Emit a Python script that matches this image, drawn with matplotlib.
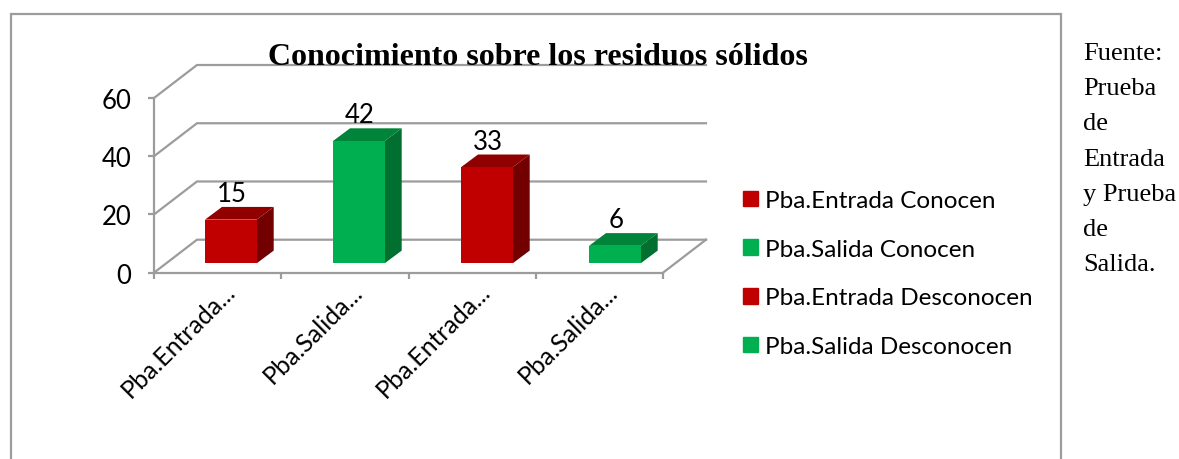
import matplotlib
matplotlib.use("Agg")
import matplotlib.pyplot as plt
from matplotlib.patches import Polygon, Rectangle, Patch

# datos
categorias = ["Pba.Entrada Conocen", "Pba.Salida Conocen", "Pba.Entrada Desconocen", "Pba.Salida Desconocen"]
etiquetas_x = ["Pba.Entrada...", "Pba.Salida...", "Pba.Entrada...", "Pba.Salida..."]
valores = [15, 42, 33, 6]
ticks_y = [0, 20, 40, 60]
titulo = "Conocimiento sobre los residuos sólidos"
fuente = ["Fuente:", "Prueba", "de", "Entrada", "y Prueba", "de", "Salida."]

# colores: frente, tapa, lado
ROJO = ("#C00000", "#900000", "#720000")
VERDE = ("#00B050", "#008439", "#006F30")
colores = [ROJO, VERDE, ROJO, VERDE]
GRIS = "#9C9C9C"

W, H = 1179, 460
plt.rcParams["font.family"] = ["Lato", "DejaVu Sans"]

fig = plt.figure(figsize=(W / 100, H / 100), dpi=100)

# plano frontal del grafico, en pixeles de la imagen
left, right, top, bottom = 154, 663, 99, 273.7
ax = fig.add_axes([left / W, 1 - bottom / H, (right - left) / W, (bottom - top) / H])
ax.set_xlim(0, len(valores))
ax.set_ylim(0, 60)
ax.patch.set_alpha(0)

# profundidad oblicua en unidades de datos
px_x = len(valores) / (right - left)
px_y = 60 / (bottom - top)
DX = 43 * px_x
DY = 33 * px_y

# paredes y rejilla
for t in ticks_y:
    ax.plot([0, DX, len(valores) + DX], [t, t + DY, t + DY], color=GRIS, lw=1.6,
            clip_on=False, zorder=1, solid_joinstyle="miter")
ax.plot([len(valores), len(valores) + DX], [0, DY], color=GRIS, lw=1.6, clip_on=False, zorder=1)

# barras 3D
ANCHO = 51.7 * px_x
PASO = 128 * px_x
BASE_X = 51 * px_x
BASE_Y = 9.4 * px_y
PROF_X = 17 * px_x
PROF_Y = 12.7 * px_y
for i, (v, c) in enumerate(zip(valores, colores)):
    x0 = BASE_X + i * PASO
    x1 = x0 + ANCHO
    y0 = BASE_Y
    y1 = BASE_Y + v
    ax.add_patch(Polygon([(x1, y0), (x1 + PROF_X, y0 + PROF_Y), (x1 + PROF_X, y1 + PROF_Y), (x1, y1)],
                         color=c[2], lw=0, clip_on=False, zorder=3))
    ax.add_patch(Polygon([(x0, y1), (x1, y1), (x1 + PROF_X, y1 + PROF_Y), (x0 + PROF_X, y1 + PROF_Y)],
                         color=c[1], lw=0, clip_on=False, zorder=3))
    ax.add_patch(Rectangle((x0, y0), ANCHO, v, color=c[0], lw=0, clip_on=False, zorder=4))
    ax.text((x0 + x1) / 2 + 1 * px_x, y1 + PROF_Y + 0.3, str(v), ha="center", va="bottom", fontsize=18.5,
            color="black", zorder=5)

# ejes
for s in ["top", "right"]:
    ax.spines[s].set_visible(False)
for s in ["left", "bottom"]:
    ax.spines[s].set_color(GRIS)
    ax.spines[s].set_linewidth(1.6)
ax.set_yticks(ticks_y)
ax.tick_params(axis="y", length=4.5, width=1.6, color=GRIS, labelsize=18.5, pad=12)
ax.set_xticks(range(len(valores) + 1))
ax.set_xticklabels([])
ax.tick_params(axis="x", length=4.5, width=1.6, color=GRIS)
for i, e in enumerate(etiquetas_x):
    ax.annotate(e, (i + 0.5, 0), xytext=(4.4, -4.5), textcoords="offset points", rotation=45,
                rotation_mode="anchor", ha="right", va="top", fontsize=18, annotation_clip=False)

# leyenda
handles = [Patch(color=c[0]) for c in colores]
ax.legend(handles, categorias, loc="upper left", bbox_to_anchor=(743 / W, 1 - 191 / H),
          bbox_transform=fig.transFigure, frameon=False, fontsize=17.5, handlelength=0.62,
          handleheight=0.62, handletextpad=0.29, labelspacing=1.14, borderaxespad=0, borderpad=0)

# titulo
fig.text(538 / W, 1 - 58 / H, titulo, ha="center", va="center", fontsize=23, fontweight="bold",
         family=["Liberation Serif"], zorder=6)

# marco exterior
fig.add_artist(Rectangle((11 / W, -0.05), (1061 - 11) / W, 1.05 - 14.5 / H, transform=fig.transFigure,
                         fill=False, edgecolor=GRIS, lw=1.6))

# texto de la fuente
for i, linea in enumerate(fuente):
    fig.text(1083 / W, 1 - (54 + i * 35.2) / H, linea, ha="left", va="center", fontsize=19,
             family=["Liberation Serif"])

fig.savefig("out.png", dpi=100)
